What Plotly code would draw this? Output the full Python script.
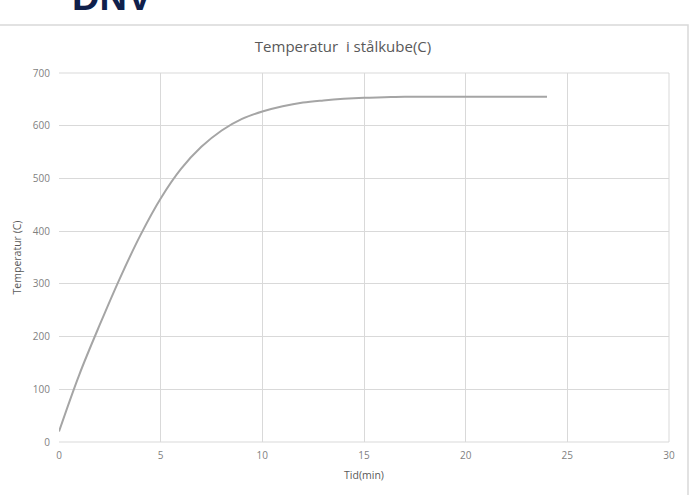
import plotly.graph_objects as go

time_min = [0, 1, 2, 3, 4, 5, 6, 7, 8, 9, 10, 11, 12, 13, 14, 15, 16, 17, 18, 19, 20, 21, 22, 23, 24]
temp_c = [20, 128, 222, 311, 392, 462, 518, 560, 591, 613, 627, 637, 644, 648, 651, 653, 654, 655, 655,
          655, 655, 655, 655, 655, 655]

x_ticks = [0, 5, 10, 15, 20, 25, 30]
y_ticks = [0, 100, 200, 300, 400, 500, 600, 700]

FONT = "Open Sans"
GRID = "#d9d9d9"
TXT = "#595959"
TICK = "#7f7f7f"

fig = go.Figure()
fig.add_trace(go.Scatter(x=time_min, y=temp_c, mode="lines",
                         line=dict(color="#a5a5a5", width=2, shape="spline", smoothing=1.0),
                         showlegend=False))

fig.update_layout(
    width=693, height=495,
    margin=dict(l=59, r=24, t=73, b=53),
    paper_bgcolor="white", plot_bgcolor="white",
    title=dict(text="Temperatur  i stålkube(C)", x=0.495, xanchor="center", y=1 - 47 / 495, yanchor="middle",
               font=dict(family=FONT, size=15, color=TXT)),
    xaxis=dict(range=[0, 30], tickvals=x_ticks, showgrid=True, gridcolor=GRID, gridwidth=1,
               zeroline=False, showline=False, ticks="", ticklabelstandoff=6,
               tickfont=dict(family=FONT, size=10, color=TICK),
               title=dict(text="Tid(min)", font=dict(family=FONT, size=10.5, color=TXT), standoff=10)),
    yaxis=dict(range=[0, 700], tickvals=y_ticks, showgrid=True, gridcolor=GRID, gridwidth=1,
               zeroline=False, showline=False, ticks="",
               tickfont=dict(family=FONT, size=10, color=TICK), ticklabelstandoff=8,
               title=dict(text="Temperatur (C)", font=dict(family=FONT, size=10.5, color=TXT), standoff=9)),
    shapes=[
        dict(type="line", xref="paper", yref="paper", x0=0, x1=1, y0=1, y1=1, line=dict(color=GRID, width=1)),
        dict(type="line", xref="paper", yref="paper", x0=1, x1=1, y0=0, y1=1, line=dict(color=GRID, width=1)),
        dict(type="line", xref="paper", yref="paper", x0=0, x1=1, y0=0, y1=0, line=dict(color=GRID, width=1)),
        dict(type="rect", xref="paper", yref="paper", x0=-0.2, x1=(688 - 59) / 610, y0=-0.3, y1=(442 - 25) / 369,
             line=dict(color="#d9d9d9", width=1.5), layer="below"),
    ],
    annotations=[
        dict(text="<b>DNV</b>", xref="paper", yref="paper", x=(70 - 59) / 610, xanchor="left",
             y=(442 - 20) / 369, yanchor="bottom", showarrow=False,
             font=dict(family="Liberation Sans", size=38, color="#0f204b")),
    ],
)

fig.write_html("out.html")
